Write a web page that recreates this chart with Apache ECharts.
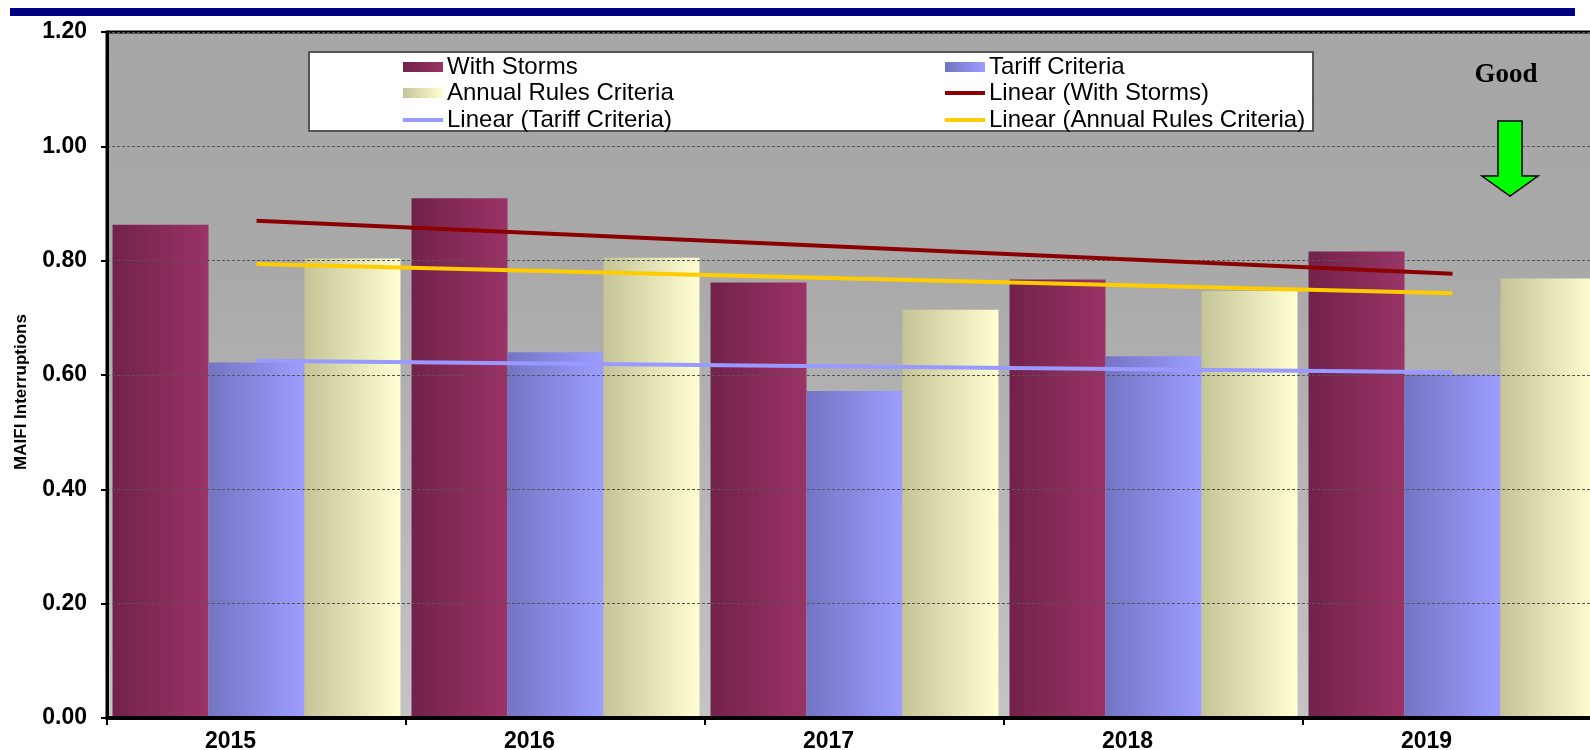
<!DOCTYPE html>
<html>
<head>
<meta charset="utf-8">
<script src="https://cdn.jsdelivr.net/npm/echarts@6/dist/echarts.min.js"></script>
<style>
html,body{margin:0;padding:0;background:#fff;}
#chart{width:1590px;height:750px;}
</style>
</head>
<body>
<div id="chart"></div>
<script>
// ---- data ----
const categories = ['2015', '2016', '2017', '2018', '2019'];
const withStorms = [0.863, 0.909, 0.762, 0.767, 0.816];
const tariffCriteria = [0.622, 0.640, 0.572, 0.633, 0.601];
const annualRules = [0.804, 0.805, 0.714, 0.747, 0.769];
// trend lines: end points (straight line between them)
const linearStorms = [0.870, null, null, null, 0.777];
const linearTariff = [0.625, null, null, null, 0.605];
const linearAnnual = [0.794, null, null, null, 0.743];
const yTicks = [0, 1.2, 0.2]; // min, max, interval
const axisName = 'MAIFI Interruptions';
const noteText = 'Good';
const seriesNames = ['With Storms', 'Tariff Criteria', 'Annual Rules Criteria',
  'Linear (With Storms)', 'Linear (Tariff Criteria)', 'Linear (Annual Rules Criteria)'];

const FONT = '"Liberation Sans", Arial, sans-serif';

function hGrad(a, b) {
  return new echarts.graphic.LinearGradient(0, 0, 1, 0, [
    { offset: 0, color: a }, { offset: 1, color: b }
  ]);
}

const chart = echarts.init(document.getElementById('chart'), null, { renderer: 'canvas' });

const barBase = { type: 'bar', barGap: '0%', barCategoryGap: '3.7%', z: 2 };
const lineBase = { type: 'line', symbol: 'none', showSymbol: false, connectNulls: true, z: 5, silent: true };

// legend layout: two columns, row-major order
const legendCols = [403, 945];
const legendRows = [67, 93, 120];
function makeLegend(idx) {
  const name = seriesNames[idx];
  const isLine = idx >= 3;
  return {
    orient: 'horizontal',
    left: legendCols[idx % 2],
    top: legendRows[Math.floor(idx / 2)] - 12,
    padding: 0,
    itemWidth: 40,
    itemHeight: isLine ? 4 : 10,
    icon: 'rect',
    selectedMode: false,
    textStyle: { fontFamily: FONT, fontSize: 24, color: '#000', lineHeight: 24, padding: [0, 0, 0, -1] },
    data: [name],
    z: 6
  };
}

const option = {
  animation: false,
  backgroundColor: '#ffffff',
  grid: {
    left: 107, width: 1495, top: 32, bottom: 32,
    outerBoundsMode: 'none',
    containLabel: false,
    show: true,
    borderColor: '#000',
    borderWidth: 3,
    backgroundColor: new echarts.graphic.LinearGradient(0, 0, 0, 1, [
      { offset: 0, color: '#a6a6a6' },
      { offset: 0.35, color: '#a9a9a9' },
      { offset: 1, color: '#c4c4c4' }
    ])
  },
  legend: [0, 1, 2, 3, 4, 5].map(makeLegend),
  xAxis: {
    type: 'category',
    data: categories,
    boundaryGap: true,
    axisLine: { show: true, lineStyle: { color: '#000', width: 4 } },
    axisTick: { show: true, inside: false, length: 7, lineStyle: { color: '#000', width: 2 } },
    axisLabel: {
      fontFamily: FONT, fontSize: 23, fontWeight: 'bold', color: '#000', margin: 12,
      padding: [0, 52, 0, 0]
    },
    splitLine: { show: false },
    z: 4
  },
  yAxis: {
    type: 'value',
    min: yTicks[0], max: yTicks[1], interval: yTicks[2],
    axisLine: { show: true, lineStyle: { color: '#000', width: 3 } },
    axisTick: { show: true, inside: false, length: 6, lineStyle: { color: '#000', width: 2 } },
    axisLabel: {
      fontFamily: FONT, fontSize: 23, fontWeight: 'bold', color: '#000', margin: 20,
      formatter: v => v.toFixed(2)
    },
    splitLine: { show: true, lineStyle: { color: '#555', width: 1, type: [3, 2] } },
    z: 4
  },
  series: [
    Object.assign({}, barBase, { name: seriesNames[0], data: withStorms, itemStyle: { color: hGrad('#71224a', '#9b3366') } }),
    Object.assign({}, barBase, { name: seriesNames[1], data: tariffCriteria, itemStyle: { color: hGrad('#7474c4', '#9d9dff') } }),
    Object.assign({}, barBase, { name: seriesNames[2], data: annualRules, itemStyle: { color: hGrad('#c4c496', '#ffffd2') } }),
    Object.assign({}, lineBase, { name: seriesNames[3], data: linearStorms, lineStyle: { color: '#8b0000', width: 4 }, itemStyle: { color: '#8b0000' } }),
    Object.assign({}, lineBase, { name: seriesNames[4], data: linearTariff, lineStyle: { color: '#9999ff', width: 4 }, itemStyle: { color: '#9999ff' } }),
    Object.assign({}, lineBase, { name: seriesNames[5], data: linearAnnual, lineStyle: { color: '#ffcc00', width: 4 }, itemStyle: { color: '#ffcc00' } })
  ],
  graphic: [
    { type: 'rect', z: 10, shape: { x: 10, y: 8, width: 1565, height: 8 }, style: { fill: '#000080' } },
    { type: 'rect', z: 3, shape: { x: 309, y: 52, width: 1004, height: 79 }, style: { fill: '#fff', stroke: '#555', lineWidth: 2 } },
    {
      type: 'text', z: 10, x: 21, y: 392, rotation: Math.PI / 2,
      style: { text: axisName, font: 'bold 17px ' + FONT, fill: '#000', align: 'center', verticalAlign: 'middle' }
    },
    {
      type: 'text', z: 10, x: 1506, y: 75,
      style: { text: noteText, font: 'bold 27px "Liberation Serif", "Times New Roman", serif', fill: '#000', align: 'center', verticalAlign: 'middle' }
    },
    {
      type: 'polygon', z: 10,
      shape: { points: [[1498, 121], [1522, 121], [1522, 176], [1538, 176], [1510, 196], [1482, 176], [1498, 176]] },
      style: { fill: '#00ff00', stroke: '#000', lineWidth: 1.5 }
    }
  ]
};

chart.setOption(option);
</script>
</body>
</html>
